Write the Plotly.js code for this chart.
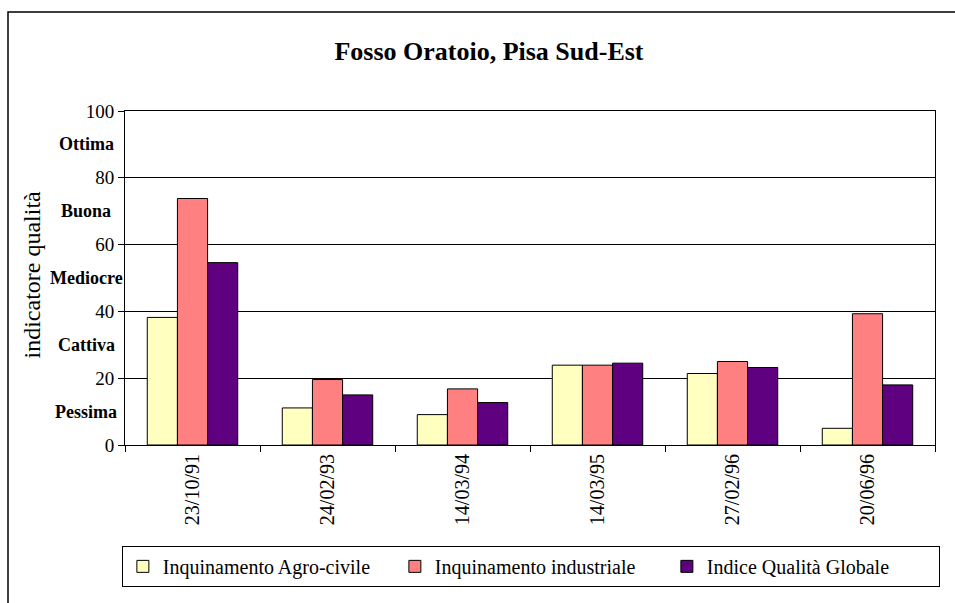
<!DOCTYPE html>
<html>
<head>
<meta charset="utf-8">
<script src="https://cdn.plot.ly/plotly-3.0.1.min.js"></script>
<style>html,body{margin:0;padding:0;background:#fff;}#chart{width:955px;height:603px;}</style>
</head>
<body>
<div id="chart"></div>
<script>
const categories = ["23/10/91", "24/02/93", "14/03/94", "14/03/95", "27/02/96", "20/06/96"];
const seriesNames = ["Inquinamento Agro-civile", "Inquinamento industriale", "Indice Qualità Globale"];
const agroCivile = [38.2, 11.1, 9.1, 23.9, 21.4, 5.0];
const industriale = [73.8, 19.6, 16.8, 23.9, 25.0, 39.3];
const indiceGlobale = [54.6, 15.0, 12.7, 24.5, 23.2, 18.0];
const qualityLabels = ["Pessima", "Cattiva", "Mediocre", "Buona", "Ottima"];
const qualityLevels = [10, 30, 50, 70, 90];
const yTicks = [0, 20, 40, 60, 80, 100];

const colors = ["#FFFFC0", "#FF8080", "#5E0080"];
const serif = "Liberation Serif, serif";

const traces = [agroCivile, industriale, indiceGlobale].map((vals, i) => ({
  type: "bar",
  name: seriesNames[i],
  x: categories,
  y: vals,
  marker: {color: colors[i], line: {color: "#000", width: 1}}
}));

const annotations = qualityLabels.map((t, i) => ({
  text: "<b>" + t + "</b>",
  xref: "paper", yref: "y",
  x: -0.048, y: qualityLevels[i],
  xanchor: "center", yanchor: "middle",
  showarrow: false,
  font: {family: serif, size: 18, color: "#000"}
}));
annotations.push({
  text: "indicatore qualità",
  xref: "paper", yref: "paper",
  x: -0.115, y: 0.51,
  xanchor: "center", yanchor: "middle",
  textangle: -90,
  showarrow: false,
  font: {family: serif, size: 24, color: "#000"}
});

const layout = {
  width: 955, height: 603,
  margin: {l: 125, r: 20, t: 111, b: 158, autoexpand: false},
  paper_bgcolor: "#fff", plot_bgcolor: "#fff",
  font: {family: serif, color: "#000"},
  title: {text: "<b>Fosso Oratoio, Pisa Sud-Est</b>", font: {family: serif, size: 26, color: "#000"},
          x: 0.512, xanchor: "center", y: 0.916, yanchor: "middle", xref: "container", yref: "container"},
  barmode: "group",
  bargap: 0.33,
  bargroupgap: 0,
  showlegend: true,
  legend: {
    orientation: "h", x: 1.006, xanchor: "right", y: -0.302, yanchor: "top",
    bordercolor: "#000", borderwidth: 1,
    font: {family: serif, size: 20, color: "#000"},
    entrywidth: 227, entrywidthmode: "pixels",
    itemwidth: 30, tracegroupgap: 0
  },
  xaxis: {
    type: "category",
    tickson: "boundaries",
    ticks: "outside", ticklen: 6, tickcolor: "#000",
    tickangle: -90,
    tickfont: {family: serif, size: 20, color: "#000"},
    showline: true, linecolor: "#000", linewidth: 1, mirror: true,
    showgrid: false, zeroline: false,
    fixedrange: true
  },
  yaxis: {
    range: [0, 100],
    tickvals: yTicks,
    ticks: "outside", ticklen: 6, tickcolor: "#000",
    tickfont: {family: serif, size: 19, color: "#000"},
    showline: true, linecolor: "#000", linewidth: 1, mirror: true,
    showgrid: true, gridcolor: "#000", gridwidth: 1,
    zeroline: false,
    fixedrange: true
  },
  annotations: annotations,
  shapes: [{
    type: "rect", xref: "paper", yref: "paper",
    x0: (8 - 125) / 810, x1: (980 - 125) / 810,
    y0: (445 - 640) / 334, y1: (445 - 12) / 334,
    line: {color: "#000", width: 1.5}, fillcolor: "rgba(0,0,0,0)", layer: "below"
  }]
};

Plotly.newPlot("chart", traces, layout, {displayModeBar: false, staticPlot: true});
</script>
</body>
</html>
